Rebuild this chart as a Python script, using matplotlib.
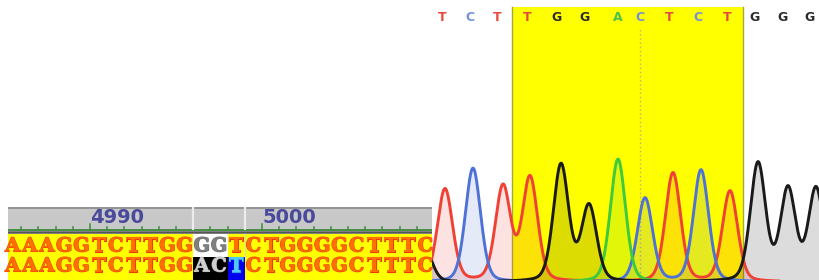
import numpy as np
import matplotlib.pyplot as plt
import matplotlib.patheffects as pe
from matplotlib.patches import Rectangle

# ---- alignment view (left) ----
ref_seq = "AAAGGTCTTGGGGTCTGGGGCTTTC"
edit_seq = "AAAGGTCTTGGACTCTGGGGCTTTC"
first_pos = 4985          # ruler number at the left edge of column 0
ruler_labels = [4990, 5000]
sel_cols = [11, 12, 13]   # edited columns

# ---- chromatogram (right) ----
call_bases = list("TCTTGGACTCTGGG")
call_pos = [12, 40, 67, 97, 127, 155, 188, 210, 239, 268, 297, 325, 353, 380]
peak_bases = list("GTCTTGGACTCTGGG")
peak_pos = [-6, 15, 43, 73, 100, 131, 159, 188, 215, 243, 271, 300, 328, 358, 386]
peak_height = [35, 92, 113, 94, 103, 116, 75, 122, 83, 108, 111, 90, 117, 91, 92]
window = (82, 313)
cut_site = 210
hwhm, eta = 9.0, 0.25   # pseudo-Voigt peak shape

trace_col = {'A': '#3ec93e', 'C': '#4f72d6', 'G': '#1a1a1a', 'T': '#ef4135'}
call_col = {'A': '#4cc34c', 'C': '#7090dc', 'G': '#2b2b2b', 'T': '#e8473b'}
yellow = '#ffff00'


def peak(x, pos, h):
    u = ((x - pos) / hwhm) ** 2
    return h * (eta / (1 + u) + (1 - eta) * np.exp(-np.log(2) * u))


fig = plt.figure(figsize=(8.2, 2.8), dpi=100)
fig.patch.set_facecolor('white')

# chromatogram
ax2 = fig.add_axes([432 / 820, 0, 388 / 820, 1])
ax2.set_xlim(2, 390)
ax2.set_ylim(2, 280)
ax2.axis('off')
ax2.add_patch(Rectangle((window[0], -2), window[1] - window[0], 275,
                        facecolor=yellow, edgecolor='none', zorder=0))
for xv in window:
    ax2.plot([xv, xv], [-2, 273], color='#a8a840', lw=1, zorder=1)
ax2.plot([cut_site, cut_site], [-2, 252], color='#b0b090', lw=1,
         ls=(0, (1, 2)), zorder=1)

x = np.linspace(-40, 420, 3000)
for b in 'TCAG':
    y = np.zeros_like(x)
    for pb, pp, ph in zip(peak_bases, peak_pos, peak_height):
        if pb == b:
            y += peak(x, pp, ph)
    ax2.fill_between(x, 0, y, color=trace_col[b], alpha=0.15, lw=0, zorder=2)
    ax2.plot(x, y, color=trace_col[b], lw=2.1, zorder=3)

for b, p in zip(call_bases, call_pos):
    ax2.text(p, 263, b, color=call_col[b], fontsize=9, fontweight='bold',
             ha='center', va='center', zorder=4)

# alignment
ax1 = fig.add_axes([8 / 820, 0, 424 / 820, 73 / 280])
ax1.set_xlim(0.23, 24.88)
ax1.set_ylim(0, 73)
ax1.axis('off')

n = len(ref_seq)
ax1.add_patch(Rectangle((0, 0), n, 46, facecolor=yellow, edgecolor='none', zorder=0))
ax1.add_patch(Rectangle((0, 49), n, 24, facecolor='#c8c8c8', edgecolor='none', zorder=0))
ax1.plot([0, n], [72.5, 72.5], color='#8a8a8a', lw=1.2)
ax1.plot([0, n], [50.3, 50.3], color='#3c8c3c', lw=1.3)
ax1.plot([0, n], [47.6, 47.6], color='#555555', lw=1.8)

# ruler ticks at column boundaries
for k in range(1, n):
    num = first_pos + k
    top = 56 if num in ruler_labels else 53
    ax1.plot([k, k], [50.3, top], color='#3c8c3c', lw=1.1)
    if num in ruler_labels:
        ax1.text(k, 57, str(num), color='#4a4a9c', fontsize=14,
                 fontweight='bold', ha='left', va='baseline')
for k in (sel_cols[0], sel_cols[-1] + 1):
    ax1.plot([k, k], [51, 72], color='#ececec', lw=1.6)
ax1.plot([sel_cols[-1] + 1] * 2, [23, 46], color='#d8e890', lw=1)

# highlighted cells
ax1.add_patch(Rectangle((11, 23), 2, 23, facecolor='white', edgecolor='none', zorder=1))
ax1.add_patch(Rectangle((11, 0), 2, 23, facecolor='black', edgecolor='none', zorder=1))
ax1.add_patch(Rectangle((13, 0), 1, 23, facecolor='#0000ee', edgecolor='none', zorder=1))

for i, (a, b) in enumerate(zip(ref_seq, edit_seq)):
    if i in (11, 12):
        c1, e1, c2, e2 = '#808080', '#6a6a6a', '#d0d0d0', '#b0b0b0'
    elif i == 13:
        c1, e1, c2, e2 = '#ff7000', '#ee3c00', '#50c8ff', '#30a0e8'
    else:
        c1, e1, c2, e2 = '#ff7000', '#ee3c00', '#ff7000', '#ee3c00'
    for yb, ch, fc, ec in ((28.5, a, c1, e1), (8.5, b, c2, e2)):
        ax1.text(i + 0.5, yb, ch, color=fc, fontsize=14, fontweight='bold',
                 family='DejaVu Serif', ha='center', va='baseline', zorder=2,
                 path_effects=[pe.Stroke(linewidth=0.8, foreground=ec), pe.Normal()])

fig.savefig('out.png', dpi=100)
